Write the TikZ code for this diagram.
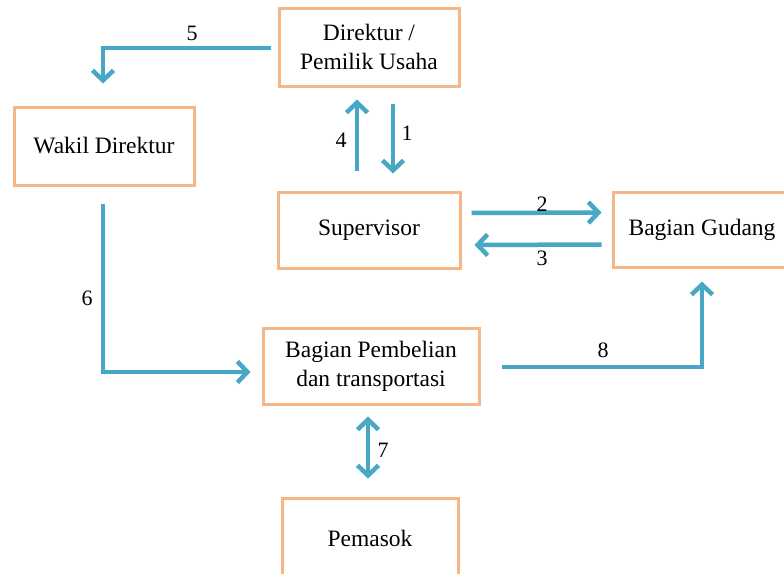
\documentclass[tikz,border=0pt]{standalone}
\usepackage{fontspec}
\setmainfont{Liberation Serif}
\newfontfamily\tnr{Liberation Serif}
\usetikzlibrary{arrows.meta}
\definecolor{boxorange}{RGB}{246,183,136}
\definecolor{flowblue}{RGB}{72,167,196}
\tikzset{
  unitbox/.style={draw=boxorange, line width=3pt, fill=white, inner sep=0pt, align=center,
    font=\tnr\fontsize{23.5}{29}\selectfont},
  flow/.style={draw=flowblue, line width=4.5pt, -{Straight Barb[length=10pt,width=21pt]}},
  flowboth/.style={draw=flowblue, line width=4.5pt, {Straight Barb[length=10pt,width=21pt]}-{Straight Barb[length=10pt,width=21pt]}},
  numlabel/.style={font=\tnr\fontsize{22}{26}\selectfont, inner sep=0pt}
}
\begin{document}
\begin{tikzpicture}[x=1pt,y=-1pt]
\path[use as bounding box, fill=white] (0,0) rectangle (784,573);
\begin{scope}
\clip (0,0) rectangle (784,573);
\node[unitbox, minimum width=180pt, minimum height=78pt] (dir) at (369,47) {Direktur /\\Pemilik Usaha};
\node[unitbox, minimum width=180pt, minimum height=78pt] (wakil) at (104,146) {Wakil Direktur};
\node[unitbox, minimum width=182pt, minimum height=76pt] (sup) at (369,230) {Supervisor};
\node[unitbox, minimum width=178pt, minimum height=75pt] (gud) at (702,229.5) {Bagian Gudang};
\node[unitbox, minimum width=216pt, minimum height=76pt] (pemb) at (371,366) {Bagian Pembelian\\dan transportasi};
\node[unitbox, minimum width=176pt, minimum height=80pt] (pem) at (370,538) {Pemasok};

% 5
\draw[flow, shorten <=7pt, shorten >=22pt] ([yshift=-1pt]dir.west) -| ([xshift=-1pt]wakil.north);
% 4
\draw[flow, shorten <=20pt, shorten >=12pt] ([xshift=-12pt]sup.north) -- ([xshift=-12pt]dir.south);
% 1
\draw[flow, shorten <=16pt, shorten >=17pt] ([xshift=24pt]dir.south) -- ([xshift=24pt]sup.north);
% 2
\draw[flow, shorten <=10pt, shorten >=10pt] ([yshift=17pt]sup.east) -- ([yshift=17pt]gud.west);
% 3
\draw[flow, shorten <=10pt, shorten >=13pt] ([yshift=-15pt]gud.west) -- ([yshift=-15pt]sup.east);
% 6
\draw[flow, shorten <=17pt, shorten >=11pt] ([xshift=-1pt]wakil.south) |- ([yshift=-6pt]pemb.west);
% 8
\draw[flow, shorten <=21pt, shorten >=13pt] ([yshift=-1pt]pemb.east) -| (gud.south);
% 7
\draw[flowboth, shorten <=11pt, shorten >=18pt] ([xshift=-3pt]pemb.south) -- ([xshift=-2pt]pem.north);
\end{scope}

\node[numlabel] (l5) at (192,33) {5};
\node[numlabel] (l4) at (341,140) {4};
\node[numlabel] (l1) at (407,133) {1};
\node[numlabel] (l2) at (542,204) {2};
\node[numlabel] (l3) at (542,258) {3};
\node[numlabel] (l6) at (87,298) {6};
\node[numlabel] (l8) at (603,350) {8};
\node[numlabel] (l7) at (383,450) {7};
\end{tikzpicture}
\end{document}
